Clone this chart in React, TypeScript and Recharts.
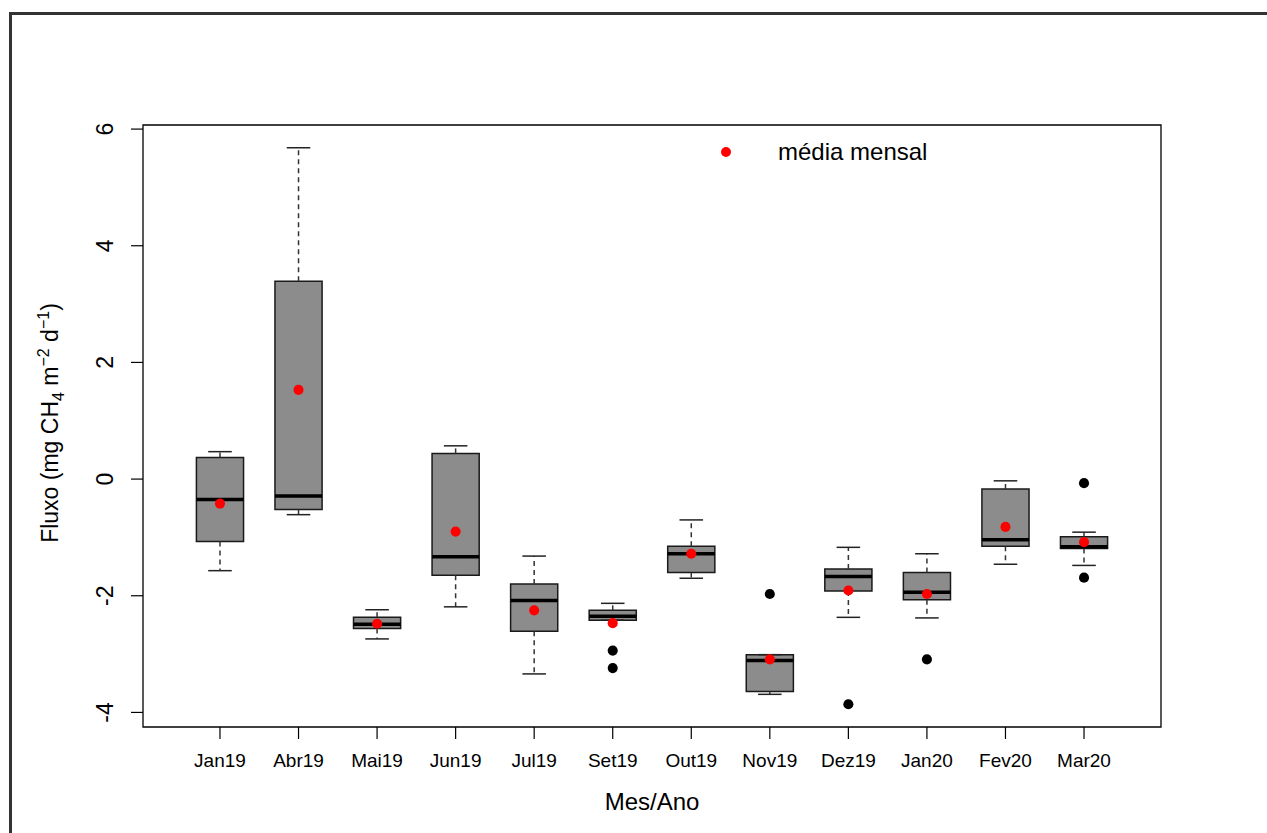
import { ComposedChart, XAxis, YAxis, ZAxis, Scatter, ReferenceArea, ReferenceLine, Legend } from 'recharts'

const months = ['Jan19', 'Abr19', 'Mai19', 'Jun19', 'Jul19', 'Set19', 'Out19', 'Nov19', 'Dez19', 'Jan20', 'Fev20', 'Mar20']
const lowerWhisker = [-1.57, -0.61, -2.74, -2.19, -3.34, -2.42, -1.70, -3.69, -2.37, -2.38, -1.46, -1.48]
const q1 = [-1.07, -0.52, -2.56, -1.65, -2.61, -2.42, -1.60, -3.64, -1.92, -2.07, -1.15, -1.19]
const median = [-0.35, -0.29, -2.49, -1.33, -2.08, -2.35, -1.28, -3.11, -1.67, -1.94, -1.04, -1.16]
const q3 = [0.37, 3.39, -2.37, 0.44, -1.80, -2.25, -1.15, -3.01, -1.54, -1.60, -0.17, -0.99]
const upperWhisker = [0.47, 5.68, -2.24, 0.57, -1.32, -2.13, -0.70, -3.01, -1.17, -1.28, -0.03, -0.91]
const monthlyMean = [-0.42, 1.53, -2.48, -0.90, -2.25, -2.47, -1.28, -3.09, -1.91, -1.97, -0.82, -1.08]

// outliers: month index (1-based) and value
const outlierMonth = [6, 6, 8, 9, 10, 12, 12]
const outlierValue = [-2.94, -3.24, -1.97, -3.86, -3.09, -0.07, -1.69]

const yTicks = [-4, -2, 0, 2, 4, 6]
const xTicks = months.map((_, i) => i + 1)

const X_DOMAIN: [number, number] = [0.02, 12.98]
const Y_DOMAIN: [number, number] = [-4.25, 6.07]
const BOX_HALF = 0.3
const CAP_HALF = 0.15
const FONT = '"Liberation Sans", Arial, Helvetica, sans-serif'

const meanData = monthlyMean.map((y, i) => ({ x: i + 1, y }))
const outlierData = outlierMonth.map((m, i) => ({ x: m, y: outlierValue[i] }))

function YTick({ x, y, payload }: any) {
  return (
    <text x={x} y={y} transform={`rotate(-90 ${x} ${y})`} textAnchor="middle" style={{ fontSize: 23 }} fill="#000">
      {payload.value}
    </text>
  )
}

function YTitle() {
  return (
    <text x={58} y={423} transform="rotate(-90 58 423)" textAnchor="middle" fontSize={23} fill="#000">
      Fluxo (mg CH<tspan dy={6} fontSize={16}>4</tspan>
      <tspan dy={-6}> m</tspan>
      <tspan dy={-9} fontSize={16}>−2</tspan>
      <tspan dy={9}> d</tspan>
      <tspan dy={-9} fontSize={16}>−1</tspan>
      <tspan dy={9}>)</tspan>
    </text>
  )
}

function MeanLegend() {
  return (
    <div style={{ display: 'flex', alignItems: 'center', fontFamily: FONT }}>
      <svg width={10} height={10} style={{ display: 'block' }}>
        <circle cx={5} cy={5} r={5} fill="#ff0000" />
      </svg>
      <span style={{ marginLeft: 47, fontSize: 24, color: '#000' }}>média mensal</span>
    </div>
  )
}

export default function App() {
  return (
    <div style={{ position: 'absolute', left: 0, top: 0, width: 1267, height: 833, overflow: 'hidden', background: '#fff', fontFamily: FONT }}>
      <ComposedChart width={1267} height={833} margin={{ top: 125, right: 106, bottom: 0, left: 0 }}>
        <XAxis
          type="number"
          dataKey="x"
          domain={X_DOMAIN}
          allowDataOverflow
          ticks={xTicks}
          tickFormatter={(v: number) => months[v - 1] ?? ''}
          height={106}
          axisLine={false}
          tickSize={12}
          tickMargin={15}
          tickLine={{ stroke: '#000', strokeWidth: 1.2 }}
          tick={{ fontSize: 19, fill: '#000' }}
          interval={0}
          label={{ value: 'Mes/Ano', position: 'insideBottom', offset: 23, fontSize: 24, fill: '#000' }}
        />
        <YAxis
          type="number"
          dataKey="y"
          domain={Y_DOMAIN}
          allowDataOverflow
          ticks={yTicks}
          width={143}
          axisLine={false}
          tickSize={12}
          tickMargin={18}
          tickLine={{ stroke: '#000', strokeWidth: 1.2 }}
          tick={<YTick />}
          interval={0}
          label={YTitle}
        />
        <ZAxis range={[80, 80]} />
        <Legend
          layout="vertical"
          align="center"
          verticalAlign="middle"
          content={<MeanLegend />}
          wrapperStyle={{ position: 'absolute', left: 721, top: 138, width: 'auto', height: 'auto' }}
        />

        {/* whiskers */}
        {months.map((_, i) => (
          <ReferenceLine
            key={`wu-${i}`}
            segment={[{ x: i + 1, y: q3[i] }, { x: i + 1, y: upperWhisker[i] }]}
            stroke="#333"
            strokeWidth={1.5}
            strokeDasharray="5 4"
          />
        ))}
        {months.map((_, i) => (
          <ReferenceLine
            key={`wl-${i}`}
            segment={[{ x: i + 1, y: q1[i] }, { x: i + 1, y: lowerWhisker[i] }]}
            stroke="#333"
            strokeWidth={1.5}
            strokeDasharray="5 4"
          />
        ))}
        {months.map((_, i) => (
          <ReferenceLine
            key={`cu-${i}`}
            segment={[{ x: i + 1 - CAP_HALF, y: upperWhisker[i] }, { x: i + 1 + CAP_HALF, y: upperWhisker[i] }]}
            stroke="#222"
            strokeWidth={1.5}
          />
        ))}
        {months.map((_, i) => (
          <ReferenceLine
            key={`cl-${i}`}
            segment={[{ x: i + 1 - CAP_HALF, y: lowerWhisker[i] }, { x: i + 1 + CAP_HALF, y: lowerWhisker[i] }]}
            stroke="#222"
            strokeWidth={1.5}
          />
        ))}

        {/* boxes */}
        {months.map((_, i) => (
          <ReferenceArea
            key={`box-${i}`}
            x1={i + 1 - BOX_HALF}
            x2={i + 1 + BOX_HALF}
            y1={q1[i]}
            y2={q3[i]}
            fill="#8c8c8c"
            fillOpacity={1}
            stroke="#1a1a1a"
            strokeWidth={1.5}
          />
        ))}
        {months.map((_, i) => (
          <ReferenceLine
            key={`med-${i}`}
            segment={[{ x: i + 1 - BOX_HALF, y: median[i] }, { x: i + 1 + BOX_HALF, y: median[i] }]}
            stroke="#000"
            strokeWidth={3.5}
          />
        ))}

        {/* plot frame */}
        <ReferenceArea x1={X_DOMAIN[0]} x2={X_DOMAIN[1]} y1={Y_DOMAIN[0]} y2={Y_DOMAIN[1]} fill="none" stroke="#000" strokeWidth={1.3} />

        <Scatter data={outlierData} dataKey="y" fill="#000" isAnimationActive={false} />
        <Scatter data={meanData} dataKey="y" fill="#ff0000" isAnimationActive={false} />
      </ComposedChart>
      <div
        style={{
          position: 'absolute',
          left: 9,
          top: 12,
          width: 1400,
          height: 1000,
          borderLeft: '3px solid #333',
          borderTop: '3px solid #333',
          pointerEvents: 'none',
        }}
      />
    </div>
  )
}
